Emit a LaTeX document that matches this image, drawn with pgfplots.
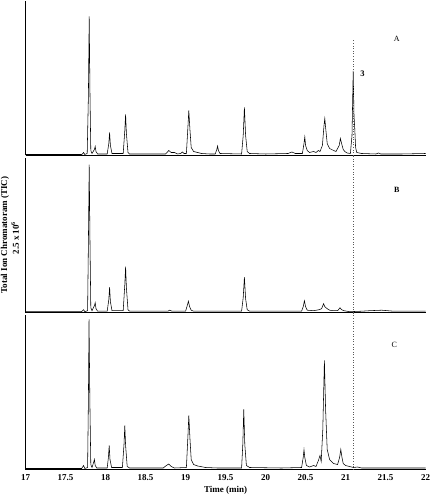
\documentclass[border=0pt]{standalone}
\usepackage{pgfplots}
\pgfplotsset{compat=1.18}
\usepackage{fontspec}
\setmainfont{Liberation Serif}
\begin{document}
\begin{tikzpicture}[x=1pt,y=1pt]
\useasboundingbox (0,0) rectangle (431,497);
\pgfplotsset{
  panel/.style={
    scale only axis, width=400pt, height=154.5pt,
    xmin=17, xmax=22, ymin=0, ymax=154.5,
    axis x line*=bottom, axis y line*=left,
    axis line style={-, line width=0.6pt, black},
    ytick=\empty, major tick length=0pt,
    clip=false, anchor=south west,
  }
}
% ---------------- Panel A ----------------
\begin{axis}[panel, at={(32,341.5)}, xticklabels={}, xtick=\empty]
\addplot[black, line width=0.55pt] coordinates {
(17,1) (17.7,1) (17.71,1.5) (17.725,3) (17.74,1) (17.77,2) (17.785,60) (17.795,139) (17.805,60) (17.815,5) (17.83,2) (17.86,6) (17.87,9) (17.88,4) (17.9,1.5)
(18.02,1.5) (18.04,12) (18.05,23) (18.06,10) (18.08,2) (18.22,2) (18.24,25) (18.25,41) (18.26,22) (18.28,3) (18.3,1.5)
(18.75,1.5) (18.79,5) (18.82,3) (18.86,3) (18.9,1.5) (18.94,2) (18.96,3.5) (18.98,2) (19.01,2) (19.03,30) (19.04,45) (19.055,25) (19.07,8) (19.1,4) (19.15,3) (19.2,2) (19.3,1.5)
(19.37,1.5) (19.39,6) (19.40,9.5) (19.41,5) (19.43,2) (19.7,1.5) (19.72,20) (19.735,48) (19.75,20) (19.77,4) (19.8,2) (20.0,1.5)
(20.28,2) (20.33,3.5) (20.37,2) (20.46,2) (20.48,12) (20.49,18.5) (20.5,10) (20.52,5) (20.55,3) (20.6,4) (20.63,3) (20.66,5) (20.68,4) (20.71,10) (20.73,30) (20.74,37) (20.75,28) (20.77,12) (20.8,7) (20.85,5) (20.88,4)
(20.92,10) (20.935,17) (20.95,12) (20.97,6) (20.99,4) (21.02,2.5) (21.06,2) (21.08,20) (21.095,84.5) (21.105,40) (21.115,26) (21.125,8) (21.14,3) (21.2,2)
(21.38,1.5) (21.41,2.5) (21.44,1.5) (21.7,1.5) (22,2)
};
\addplot[black!65, dotted, line width=0.6pt] coordinates {(21.09,0) (21.09,116.5)};
\node[font=\fontsize{8}{9}\selectfont] at (axis cs:21.64,116.5) {A};
\node[font=\bfseries\fontsize{8.5}{9}\selectfont] at (axis cs:21.21,81.5) {3};
\end{axis}
% ---------------- Panel B ----------------
\begin{axis}[panel, at={(32,184.3)}, xticklabels={}, xtick=\empty]
\addplot[black, line width=0.55pt] coordinates {
(17,1) (17.7,1) (17.725,3) (17.74,1) (17.775,2) (17.785,70) (17.795,148) (17.805,70) (17.815,5) (17.83,2) (17.86,7) (17.87,10) (17.88,4) (17.9,1.5)
(18.02,1.5) (18.04,13) (18.05,25.5) (18.06,11) (18.08,2) (18.22,2) (18.24,28) (18.25,46) (18.26,25) (18.28,3) (18.3,1.5)
(18.78,1.5) (18.8,2.5) (18.83,1.5) (19.0,1.5) (19.02,7) (19.035,11.5) (19.05,6) (19.07,2.5) (19.1,1.5)
(19.7,1.5) (19.72,15) (19.735,35.5) (19.75,14) (19.77,3) (19.8,1.5)
(20.45,1.5) (20.47,6) (20.485,12) (20.5,6) (20.52,2.5) (20.6,2) (20.67,3) (20.7,4) (20.725,9) (20.74,6) (20.77,4) (20.8,2.5) (20.85,2)
(20.9,2) (20.93,5) (20.95,3) (20.98,2) (21.05,1) (21.2,1.5) (21.3,2) (21.45,2.5) (21.6,1.5) (22,1.5)
};
\addplot[black!65, dotted, line width=0.6pt] coordinates {(21.09,0) (21.09,157.5)};
\node[font=\bfseries\fontsize{8}{9}\selectfont] at (axis cs:21.64,123) {B};
\end{axis}
% ---------------- Panel C ----------------
\begin{axis}[panel, at={(32,27.5)},
  xtick={17,17.5,18,18.5,19,19.5,20,20.5,21,21.5,22},
  xticklabels={17,17.5,18,18.5,19,19.5,20,20.5,21,21.5,22},
  ticklabel style={font=\bfseries\fontsize{9}{10}\selectfont},
  xticklabel style={yshift=-1.5pt},
  xlabel={Time (min)},
  xlabel style={font=\bfseries\fontsize{9}{10}\selectfont, yshift=1pt},
]
\addplot[black, line width=0.55pt] coordinates {
(17,1) (17.7,1) (17.725,4) (17.74,1) (17.775,2) (17.785,70) (17.793,150) (17.803,70) (17.815,5) (17.83,2) (17.85,7) (17.86,10) (17.87,4) (17.89,1.5)
(18.02,1.5) (18.035,12) (18.045,24) (18.055,10) (18.075,2) (18.21,2) (18.23,25) (18.24,44) (18.25,24) (18.27,3) (18.3,1.5)
(18.72,1.5) (18.76,4) (18.79,5.5) (18.82,3) (18.86,1.5) (19.01,2) (19.03,35) (19.04,54) (19.055,30) (19.07,10) (19.1,5) (19.15,3.5) (19.25,2) (19.4,1.5)
(19.7,1.5) (19.715,25) (19.727,60) (19.74,25) (19.76,4) (19.8,2) (20.2,1.5)
(20.45,2) (20.47,12) (20.48,19.7) (20.49,12) (20.51,4) (20.55,2.5) (20.6,4) (20.63,3) (20.66,9) (20.68,14) (20.695,8) (20.715,40) (20.735,109) (20.75,60) (20.77,20) (20.8,10) (20.85,6) (20.9,5)
(20.925,12) (20.94,20) (20.955,12) (20.97,6) (21.0,4) (21.05,3) (21.1,2) (21.15,2.5) (21.2,1.5) (22,1.5)
};
\addplot[black!65, dotted, line width=0.6pt] coordinates {(21.09,0) (21.09,157)};
\node[font=\fontsize{8}{9}\selectfont] at (axis cs:21.61,124.5) {C};
\end{axis}
% ---------------- y label ----------------
\node[rotate=90, font=\bfseries\fontsize{9}{10}\selectfont] at (5,262) {Total Ion Chromatoram (TIC)};
\node[rotate=90, font=\bfseries\fontsize{9}{10}\selectfont] at (15,259) {2.5 x 10\textsuperscript{6}};
\end{tikzpicture}
\end{document}
